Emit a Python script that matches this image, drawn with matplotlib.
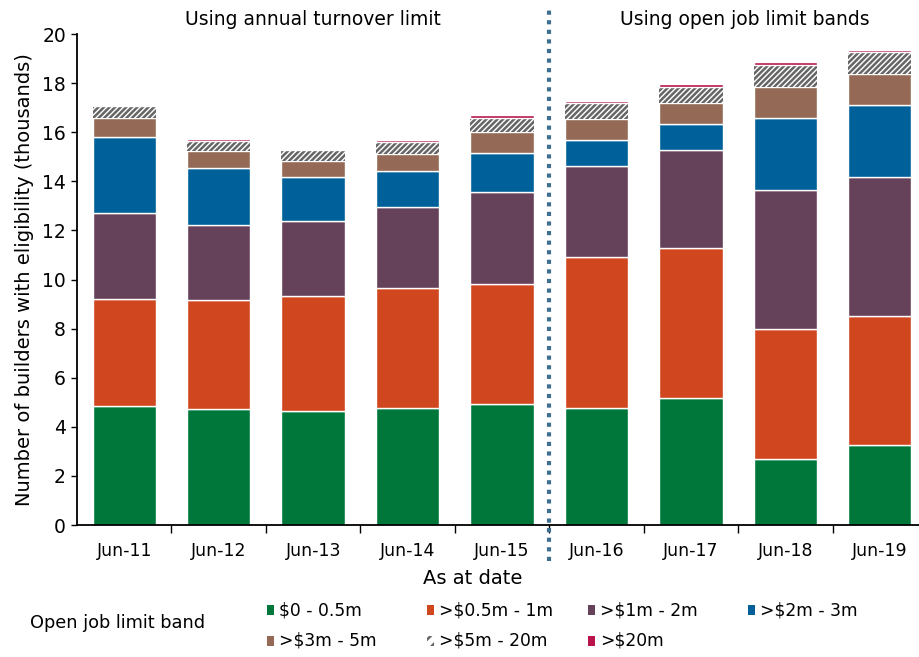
import numpy as np
import matplotlib
matplotlib.use("Agg")
import matplotlib.pyplot as plt
from matplotlib.patches import Rectangle

plt.rcParams['font.family'] = ['DejaVu Sans']
plt.rcParams['hatch.linewidth'] = 1.8

# builders with eligibility, thousands, by open job limit band
dates = ["Jun-11", "Jun-12", "Jun-13", "Jun-14", "Jun-15",
         "Jun-16", "Jun-17", "Jun-18", "Jun-19"]
bands = ["$0 - 0.5m", ">$0.5m - 1m", ">$1m - 2m", ">$2m - 3m",
         ">$3m - 5m", ">$5m - 20m", ">$20m"]

band_0_05 = [4.86, 4.71, 4.63, 4.78, 4.93, 4.78, 5.16, 2.68, 3.25]
band_05_1 = [4.33, 4.47, 4.70, 4.86, 4.90, 6.12, 6.12, 5.32, 5.28]
band_1_2 = [3.51, 3.04, 3.05, 3.33, 3.75, 3.74, 3.99, 5.65, 5.66]
band_2_3 = [3.12, 2.33, 1.78, 1.46, 1.59, 1.04, 1.05, 2.94, 2.93]
band_3_5 = [0.75, 0.68, 0.68, 0.67, 0.83, 0.85, 0.86, 1.24, 1.24]
band_5_20 = [0.49, 0.42, 0.43, 0.49, 0.59, 0.65, 0.68, 0.91, 0.89]
band_20 = [0.06, 0.08, 0.06, 0.09, 0.10, 0.09, 0.10, 0.11, 0.11]

series = [band_0_05, band_05_1, band_1_2, band_2_3, band_3_5, band_5_20, band_20]
colors = ["#00773a", "#d0461f", "#65415a", "#00609a", "#946a56", "white", "#b8134a"]
hatches = [None, None, None, None, None, "//////", None]

fig = plt.figure(figsize=(9.2, 6.57), dpi=100)
ax = fig.add_axes([0.0837, 0.2009, 0.924, 0.7473])

x = np.arange(len(dates))
bottom = np.zeros(len(dates))
for vals, col, h in zip(series, colors, hatches):
    vals = np.array(vals)
    if h:
        ax.bar(x, vals, 0.67, bottom=bottom, color=col, edgecolor="#666666",
               linewidth=0, hatch=h, zorder=2)
    else:
        ax.bar(x, vals, 0.67, bottom=bottom, color=col, edgecolor="white",
               linewidth=1, zorder=2)
    bottom += vals

ax.set_xlim(-0.5, 8.5)
ax.set_ylim(0, 20)
ax.set_yticks(range(0, 21, 2))
ax.set_xticks(x)
ax.set_xticklabels(dates)
ax.set_xticks(np.arange(0.5, 8, 1), minor=True)
ax.tick_params(axis="x", which="major", length=0, pad=12, labelsize=12.5)
ax.tick_params(axis="x", which="minor", length=6, width=1, direction="out")
ax.tick_params(axis="y", length=4, width=1, labelsize=13.5, pad=4)
for s in ["top", "right"]:
    ax.spines[s].set_visible(False)
ax.spines["left"].set_linewidth(1.3)
ax.spines["bottom"].set_linewidth(1.3)
ax.set_ylabel("Number of builders with eligibility (thousands)", fontsize=14, labelpad=6)

# divider between the two measurement methods
ax.plot([4.5, 4.5], [-1.45, 21.05], color="#3f6f8f", lw=3, clip_on=False,
        dashes=(1, 1.3), zorder=3)
ax.text(2.0, 20.6, "Using annual turnover limit", ha="center", va="center",
        fontsize=13.5, clip_on=False)
ax.text(6.57, 20.6, "Using open job limit bands", ha="center", va="center",
        fontsize=13.5, clip_on=False)

fig.text(473 / 920, 1 - 578 / 657, "As at date", ha="center", va="center", fontsize=14)

# legend laid out in a fixed grid
fig.text(30 / 920, 1 - 623 / 657, "Open job limit band", ha="left", va="center", fontsize=12.8)
col_x = [267, 427, 588, 748]
row_y = [610, 641]
for i, (name, col, h) in enumerate(zip(bands, colors, hatches)):
    r, c = divmod(i, 4)
    px, py = col_x[c], row_y[r]
    fig.patches.append(Rectangle((px / 920, 1 - (py + 5) / 657), 7 / 920, 10 / 657,
                                 transform=fig.transFigure, facecolor=col,
                                 edgecolor="#666666" if h else col, linewidth=0,
                                 hatch="///" if h else None))
    fig.text((px + 12) / 920, 1 - py / 657, name, ha="left", va="center", fontsize=12.3)

fig.savefig("out.png", dpi=100)
